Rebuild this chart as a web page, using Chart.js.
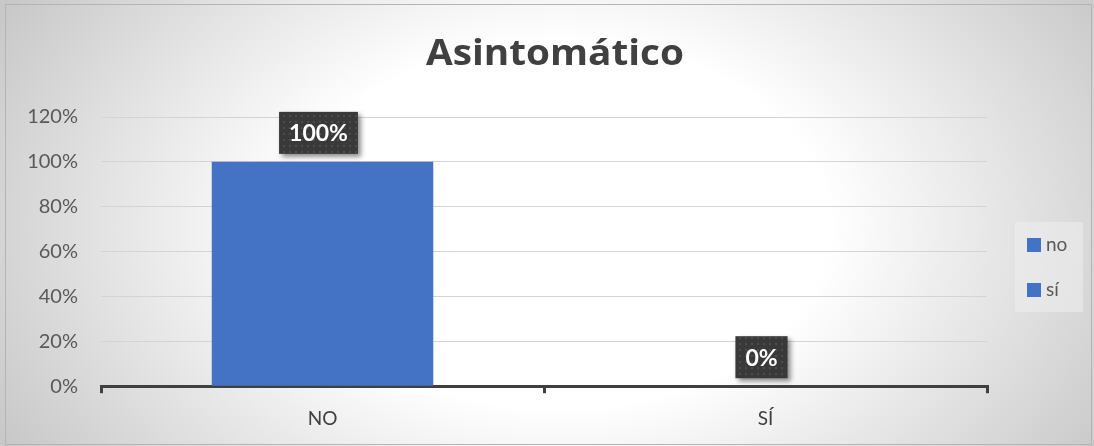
<!DOCTYPE html>
<html>
<head>
<meta charset="utf-8">
<script src="https://cdn.jsdelivr.net/npm/chart.js@4.4.1/dist/chart.umd.min.js"></script>
<style>
  html, body { margin: 0; padding: 0; background: #c4c4c4; }
  #wrap { width: 1094px; height: 446px; position: relative; }
</style>
</head>
<body>
<div id="wrap"><canvas id="asintChart" width="1094" height="446"></canvas></div>
<script>
const chartTitle = "Asintomático";
const categories = ["NO", "SÍ"];
const legendLabels = ["no", "sí"];
const values = [1, 0];
const valueLabels = ["100%", "0%"];
const yTicks = [0, 0.2, 0.4, 0.6, 0.8, 1.0, 1.2];

const BLUE = "#4472C4";
const FONT = "Lato, 'Open Sans', sans-serif";

// grey radial wash behind everything, with the thin frame
const backdrop = {
  id: "backdrop",
  beforeDraw(chart) {
    const ctx = chart.ctx;
    const w = chart.width, h = chart.height;
    ctx.save();
    ctx.fillStyle = "#c4c4c4";
    ctx.fillRect(0, 0, w, h);
    ctx.save();
    ctx.translate(560, 225);
    ctx.scale(1, 0.68);
    const g = ctx.createRadialGradient(0, 0, 0, 0, 0, 640);
    g.addColorStop(0, "#ffffff");
    g.addColorStop(0.42, "#ffffff");
    g.addColorStop(1, "#c8c8c8");
    ctx.fillStyle = g;
    ctx.fillRect(-560, -225 / 0.68, w, h / 0.68);
    ctx.restore();
    ctx.strokeStyle = "#b4b4b4";
    ctx.lineWidth = 1;
    ctx.strokeRect(5.5, 4.5, w - 8, h - 6);
    ctx.restore();
  }
};

// bold title, centred on the whole frame
const wideTitle = {
  id: "wideTitle",
  afterDraw(chart) {
    const ctx = chart.ctx;
    ctx.save();
    ctx.font = "bold 36px 'Open Sans', Lato, sans-serif";
    const sx = 258 / ctx.measureText(chartTitle).width;
    ctx.translate(555, 55);
    ctx.scale(sx, 1);
    ctx.fillStyle = "#404040";
    ctx.textAlign = "center";
    ctx.textBaseline = "middle";
    ctx.fillText(chartTitle, 0, 0);
    ctx.restore();
  }
};

// dotted dark boxes holding the value labels
function dotPattern(ctx) {
  const c = document.createElement("canvas");
  c.width = 6; c.height = 6;
  const p = c.getContext("2d");
  p.fillStyle = "#393939";
  p.fillRect(0, 0, 6, 6);
  p.fillStyle = "#4c4c4c";
  p.fillRect(1, 1, 2, 2);
  return ctx.createPattern(c, "repeat");
}

const valueBoxes = {
  id: "valueBoxes",
  afterDatasetsDraw(chart) {
    const ctx = chart.ctx;
    const meta = chart.getDatasetMeta(0);
    const pat = dotPattern(ctx);
    ctx.save();
    ctx.font = "bold 23px " + FONT;
    meta.data.forEach((bar, i) => {
      const txt = valueLabels[i];
      const tw = ctx.measureText(txt).width;
      const bw = tw + 20, bh = 42;
      const x = bar.x - 4 - bw / 2;
      const y = bar.y - 8 - bh;
      ctx.save();
      ctx.shadowColor = "rgba(0,0,0,0.45)";
      ctx.shadowBlur = 5;
      ctx.shadowOffsetX = 3;
      ctx.shadowOffsetY = 3;
      ctx.fillStyle = pat;
      ctx.fillRect(x, y, bw, bh);
      ctx.restore();
      ctx.fillStyle = "#ffffff";
      ctx.textAlign = "center";
      ctx.textBaseline = "middle";
      ctx.fillText(txt, x + bw / 2, y + bh / 2 + 1);
    });
    ctx.restore();
  }
};

// legend panel on the right
const sideLegend = {
  id: "sideLegend",
  afterDraw(chart) {
    const ctx = chart.ctx;
    const left = chart.chartArea.right + 28;
    const top = 222;
    ctx.save();
    ctx.fillStyle = "rgba(238,238,238,0.55)";
    ctx.fillRect(left, top, 68, 90);
    ctx.font = "19px " + FONT;
    ctx.textBaseline = "middle";
    legendLabels.forEach((lab, i) => {
      const cy = top + 23 + i * 45;
      ctx.fillStyle = BLUE;
      ctx.fillRect(left + 12, cy - 7, 14, 14);
      ctx.fillStyle = "#595959";
      ctx.fillText(lab, left + 31, cy);
    });
    ctx.restore();
  }
};

new Chart(document.getElementById("asintChart"), {
  type: "bar",
  data: {
    labels: categories,
    datasets: [{
      label: chartTitle,
      data: values,
      backgroundColor: BLUE,
      categoryPercentage: 1.0,
      barPercentage: 0.5
    }]
  },
  options: {
    responsive: false,
    animation: false,
    layout: { padding: { top: 117, left: 20, right: 107, bottom: 2 } },
    plugins: {
      legend: { display: false },
      tooltip: { enabled: false },
      title: { display: false }
    },
    scales: {
      x: {
        grid: {
          drawOnChartArea: false,
          drawTicks: true,
          tickLength: 7,
          color: "#404040",
          lineWidth: 3
        },
        border: { display: true, color: "#404040", width: 3 },
        ticks: { color: "#404040", font: { family: FONT, size: 19 }, padding: 14 }
      },
      y: {
        min: 0,
        max: 1.2,
        afterFit(scale) { scale.width = 81; },
        afterBuildTicks(scale) { scale.ticks = yTicks.map(v => ({ value: v })); },
        grid: { color: "#d4d4d4", lineWidth: 1, drawTicks: false },
        border: { display: false },
        ticks: {
          color: "#595959",
          font: { family: FONT, size: 20 },
          padding: 23,
          callback: v => Math.round(v * 100) + "%"
        }
      }
    }
  },
  plugins: [backdrop, valueBoxes, sideLegend, wideTitle]
});
</script>
</body>
</html>
